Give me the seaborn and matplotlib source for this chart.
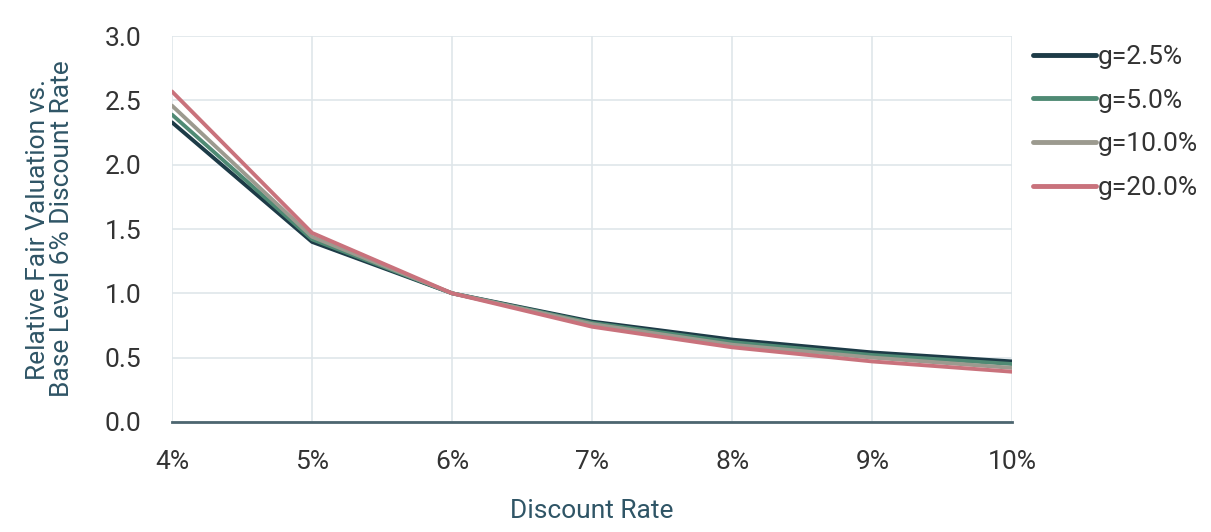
import pandas as pd
import matplotlib.pyplot as plt
import seaborn as sns

# 할인율(%) 별 상대 가치
discount_rate = [4, 5, 6, 7, 8, 9, 10]
g_labels = ["g=2.5%", "g=5.0%", "g=10.0%", "g=20.0%"]
val_g25 = [2.33, 1.40, 1.00, 0.78, 0.64, 0.54, 0.47]
val_g50 = [2.39, 1.42, 1.00, 0.77, 0.62, 0.52, 0.45]
val_g100 = [2.46, 1.44, 1.00, 0.76, 0.60, 0.50, 0.42]
val_g200 = [2.57, 1.47, 1.00, 0.74, 0.58, 0.47, 0.39]
y_ticks = [0.0, 0.5, 1.0, 1.5, 2.0, 2.5, 3.0]

colors = ["#1d3b47", "#4f8a74", "#9c9a8f", "#c9727c"]
text_color = "#2f5566"

df = pd.DataFrame({
    "rate": discount_rate * 4,
    "value": val_g25 + val_g50 + val_g100 + val_g200,
    "g": [lab for lab in g_labels for _ in discount_rate],
})

sns.set_theme(style="white")
plt.rcParams["font.family"] = ["Roboto", "DejaVu Sans"]

fig = plt.figure(figsize=(12.11, 5.32), dpi=100)
ax = fig.add_axes([0.142, 0.207, 0.694, 0.725])

sns.lineplot(data=df, x="rate", y="value", hue="g", hue_order=g_labels,
             palette=colors, linewidth=2.8, ax=ax, legend=True)

ax.set_xlim(4, 10)
ax.set_ylim(0, 3.0)
ax.set_xticks(discount_rate)
ax.set_xticklabels([f"{r}%" for r in discount_rate])
ax.set_yticks(y_ticks)
ax.set_yticklabels([f"{v:.1f}" for v in y_ticks])
ax.grid(True, color="#dfe6ea", linewidth=1.2)
ax.set_axisbelow(True)

for side in ["top", "right", "left"]:
    ax.spines[side].set_visible(False)
ax.spines["bottom"].set_color("#4d6670")
ax.spines["bottom"].set_linewidth(2)

ax.tick_params(axis="both", labelsize=19, colors="#333333", length=0)
ax.tick_params(axis="x", pad=20)
ax.tick_params(axis="y", pad=22)

ax.set_xlabel("Discount Rate", fontsize=19, color=text_color, labelpad=18)
ax.set_ylabel("Relative Fair Valuation vs.\nBase Level 6% Discount Rate",
              fontsize=19, color=text_color, linespacing=1.05)
ax.yaxis.set_label_coords(-0.116, 0.5)

leg = ax.legend(loc="upper left", bbox_to_anchor=(1.012, 1.005), frameon=False,
                fontsize=19, handlelength=2.4, handletextpad=0.05,
                labelspacing=0.75, borderaxespad=0)
for line in leg.get_lines():
    line.set_linewidth(3.5)
for t in leg.get_texts():
    t.set_color("#333333")

fig.savefig("out.png", dpi=100)
